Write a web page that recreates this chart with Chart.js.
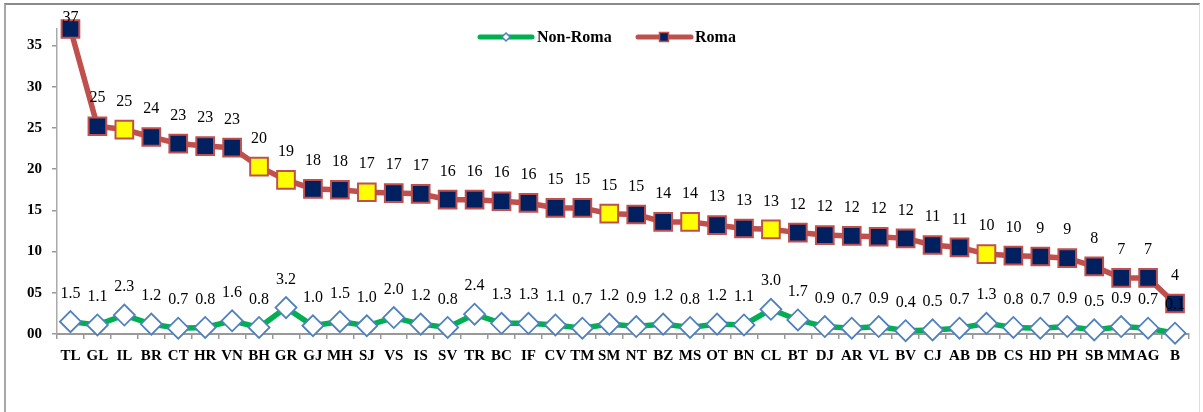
<!DOCTYPE html>
<html>
<head>
<meta charset="utf-8">
<script src="https://cdn.jsdelivr.net/npm/chart.js@4.4.1/dist/chart.umd.min.js"></script>
<style>
  html, body { margin: 0; padding: 0; background: #fff; overflow: hidden; }
  #frame { position: absolute; left: 4px; top: 3px; width: 1196px; height: 430px;
           border-top: 2px solid #8a8a8a; border-left: 2px solid #a8a8a8; border-right: 1px solid #dcdcdc; box-sizing: border-box; }
  #c { position: absolute; left: 0; top: 0; }
</style>
</head>
<body>
<div id="frame"></div>
<canvas id="c" width="1203" height="412"></canvas>
<script>
const categories = ['TL','GL','IL','BR','CT','HR','VN','BH','GR','GJ','MH','SJ','VS','IS','SV','TR','BC','IF','CV','TM','SM','NT','BZ','MS','OT','BN','CL','BT','DJ','AR','VL','BV','CJ','AB','DB','CS','HD','PH','SB','MM','AG','B'];
const romaValues = [37, 25.2, 24.8, 23.9, 23.1, 22.8, 22.6, 20.3, 18.7, 17.6, 17.5, 17.2, 17.1, 17.0, 16.3, 16.3, 16.1, 15.9, 15.3, 15.3, 14.6, 14.5, 13.6, 13.6, 13.2, 12.8, 12.7, 12.3, 12.0, 11.9, 11.8, 11.6, 10.8, 10.5, 9.7, 9.5, 9.4, 9.2, 8.2, 6.8, 6.8, 3.7];
const nonRomaValues = [1.5, 1.1, 2.3, 1.2, 0.7, 0.8, 1.6, 0.8, 3.2, 1.0, 1.5, 1.0, 2.0, 1.2, 0.8, 2.4, 1.3, 1.3, 1.1, 0.7, 1.2, 0.9, 1.2, 0.8, 1.2, 1.1, 3.0, 1.7, 0.9, 0.7, 0.9, 0.4, 0.5, 0.7, 1.3, 0.8, 0.7, 0.9, 0.5, 0.9, 0.7, 0.1];
const highlighted = ['IL','BH','GR','SJ','SM','MS','CL','DB'];
const yTicks = [0, 5, 10, 15, 20, 25, 30, 35];
const seriesNames = ['Non-Roma', 'Roma'];

const RED = '#c0504d', NAVY = '#002060', YELLOW = '#ffff00', GREEN = '#00b050', BLUE = '#4f81bd';
const romaFill = categories.map(c => highlighted.includes(c) ? YELLOW : NAVY);

const labelPlugin = {
  id: 'labels',
  afterDatasetsDraw(chart) {
    const ctx = chart.ctx;
    ctx.save();
    ctx.font = '16px "Liberation Serif", serif';
    ctx.fillStyle = '#000';
    ctx.textAlign = 'center';
    ctx.textBaseline = 'middle';
    [1, 0].forEach(di => {
      const meta = chart.getDatasetMeta(di);
      const data = chart.data.datasets[di].data;
      meta.data.forEach((pt, i) => {
        const txt = di === 1 ? String(Math.round(data[i])) : data[i].toFixed(1);
        const y = Math.max(pt.y - 28, 18);
        ctx.fillText(txt, pt.x, y);
      });
    });
    ctx.restore();
  },
  afterDraw(chart) {
    const ctx = chart.ctx;
    ctx.save();
    const y = 37;
    ctx.lineCap = 'round';
    ctx.strokeStyle = GREEN; ctx.lineWidth = 5;
    ctx.beginPath(); ctx.moveTo(480, y); ctx.lineTo(532, y); ctx.stroke();
    ctx.fillStyle = '#fff'; ctx.strokeStyle = BLUE; ctx.lineWidth = 1.5;
    ctx.beginPath(); ctx.moveTo(506, y - 4); ctx.lineTo(510, y); ctx.lineTo(506, y + 4); ctx.lineTo(502, y); ctx.closePath(); ctx.fill(); ctx.stroke();
    ctx.strokeStyle = RED; ctx.lineWidth = 5;
    ctx.beginPath(); ctx.moveTo(638, y); ctx.lineTo(691, y); ctx.stroke();
    ctx.fillStyle = NAVY; ctx.strokeStyle = RED; ctx.lineWidth = 1.5;
    ctx.fillRect(659.5, y - 4.5, 9, 9); ctx.strokeRect(659.5, y - 4.5, 9, 9);
    ctx.font = 'bold 16px "Liberation Serif", serif';
    ctx.fillStyle = '#000'; ctx.textAlign = 'left'; ctx.textBaseline = 'middle';
    ctx.fillText(seriesNames[0], 537, y + 1);
    ctx.fillText(seriesNames[1], 695, y + 1);
    ctx.restore();
  }
};

new Chart(document.getElementById('c'), {
  type: 'line',
  data: {
    labels: categories,
    datasets: [
      {
        label: seriesNames[0],
        data: nonRomaValues,
        borderColor: GREEN,
        borderWidth: 5.5,
        pointStyle: 'rectRot',
        pointRadius: 10.5,
        pointBackgroundColor: '#fff',
        pointBorderColor: BLUE,
        pointBorderWidth: 1.8,
        tension: 0,
        clip: false
      },
      {
        label: seriesNames[1],
        data: romaValues,
        borderColor: RED,
        borderWidth: 5.5,
        pointStyle: 'rect',
        pointRadius: 12.5,
        pointBackgroundColor: romaFill,
        pointBorderColor: RED,
        pointBorderWidth: 2,
        tension: 0,
        clip: false
      }
    ]
  },
  options: {
    responsive: false,
    animation: false,
    events: [],
    layout: { padding: { left: 0, right: 6, top: 29, bottom: 0 } },
    plugins: { legend: { display: false }, tooltip: { enabled: false } },
    scales: {
      x: {
        type: 'category',
        offset: true,
        afterFit(s) { s.height = 78; },
        grid: { offset: true, drawOnChartArea: false, drawTicks: true, tickLength: 5, color: '#999', lineWidth: 1.5 },
        border: { display: true, color: '#999', width: 2 },
        ticks: { color: '#000', padding: 8, maxRotation: 0, autoSkip: false, font: { family: '"Liberation Serif", serif', weight: 'bold', size: 15 } }
      },
      y: {
        min: 0,
        max: 37,
        afterFit(s) { s.width = 57; },
        afterBuildTicks(s) { s.ticks = yTicks.map(v => ({ value: v })); },
        grid: { drawOnChartArea: false, drawTicks: true, tickLength: 5, color: '#999', lineWidth: 1.5 },
        border: { display: true, color: '#aaa', width: 1.5 },
        ticks: {
          color: '#000', padding: 10,
          font: { family: '"Liberation Serif", serif', weight: 'bold', size: 15 },
          callback: v => String(v).padStart(2, '0')
        }
      }
    }
  },
  plugins: [labelPlugin]
});
</script>
</body>
</html>
